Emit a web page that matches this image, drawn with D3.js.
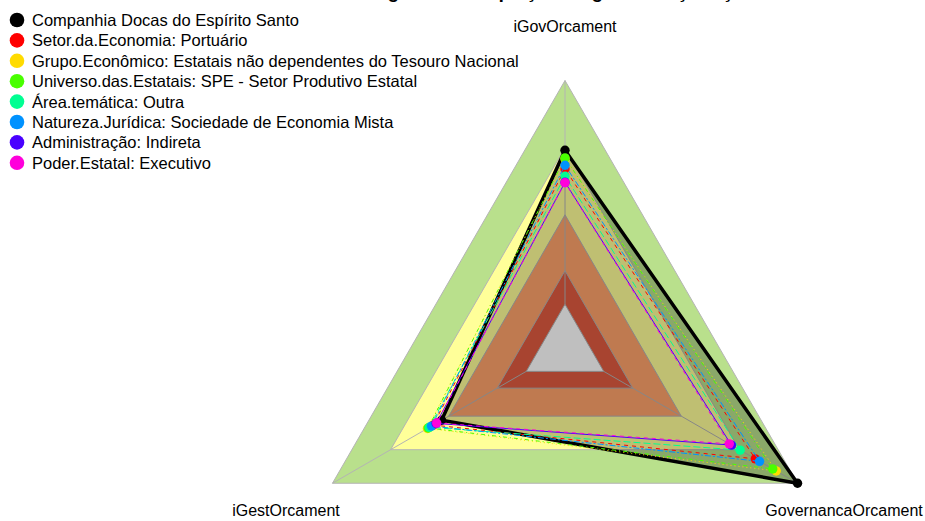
<!DOCTYPE html>
<html><head><meta charset="utf-8">
<script src="https://cdn.jsdelivr.net/npm/d3@7"></script>
<style>body{margin:0;background:#fff}svg{display:block}text{font-family:"Liberation Sans",Arial,sans-serif}</style>
</head><body>
<svg id="c" width="925" height="521"></svg>
<script>
const axes = ["iGovOrcament", "iGestOrcament", "GovernancaOrcament"];
const seriesNames = [
  "Companhia Docas do Espírito Santo",
  "Setor.da.Economia: Portuário",
  "Grupo.Econômico: Estatais não dependentes do Tesouro Nacional",
  "Universo.das.Estatais: SPE - Setor Produtivo Estatal",
  "Área.temática: Outra",
  "Natureza.Jurídica: Sociedade de Economia Mista",
  "Administração: Indireta",
  "Poder.Estatal: Executivo"
];
const seriesColors = ["#000000","#FF0000","#FFDB00","#49FF00","#00FF92","#0092FF","#4900FF","#FF00DB"];
// values per series: [iGovOrcament, iGestOrcament, GovernancaOrcament]
const iGovOrcament       = [0.688, 0.605, 0.650, 0.654, 0.572, 0.621, 0.545, 0.543];
const iGestOrcament      = [0.437, 0.480, 0.510, 0.506, 0.500, 0.489, 0.465, 0.462];
const GovernancaOrcament = [1.000, 0.782, 0.890, 0.872, 0.704, 0.804, 0.659, 0.648];
const bandValues = [1.0, 0.70, 0.40, 0.15, 0.0];
const bandColors = ["#b9e08c", "#ffff99", "#ffa36b", "#e05b40", "#ffffff"];
const titleText = "Percentagem de adequação da governança orçamentária";

const svg = d3.select("#c");
const cx = 565, cy = 349, R = 268.5;
const r = d3.scaleLinear().domain([0, 1]).range([R / 6, R]);
const ang = d3.scaleOrdinal().domain(axes).range([-90, 150, 30].map(a => a * Math.PI / 180));
const pt = (ax, v) => [cx + r(v) * Math.cos(ang(ax)), cy + r(v) * Math.sin(ang(ax))];
const line = d3.line().curve(d3.curveLinearClosed);

// title (clipped at top as in reference)
svg.append("text").attr("x", cx).attr("y", -2).attr("text-anchor", "middle")
  .attr("font-weight", "bold").attr("font-size", 19).text(titleText);

// bands
bandValues.forEach((v, i) => {
  svg.append("path").attr("d", line(axes.map(a => pt(a, v))))
    .attr("fill", bandColors[i]).attr("stroke", "#b4b4b4").attr("stroke-width", 1);
});
// axis lines
axes.forEach(a => {
  const p0 = pt(a, 0), p1 = pt(a, 1);
  svg.append("line").attr("x1", p0[0]).attr("y1", p0[1]).attr("x2", p1[0]).attr("y2", p1[1])
    .attr("stroke", "#b4b4b4").attr("stroke-width", 1);
});

const dashes = [null, "4 4", "1 3", "1 3 4 3", "7 3", "2 2 6 2", null, "4 4"];
seriesNames.forEach((name, i) => {
  const vals = [iGovOrcament[i], iGestOrcament[i], GovernancaOrcament[i]];
  const pts = axes.map((a, k) => pt(a, vals[k]));
  const g = svg.append("g");
  g.append("path").attr("d", line(pts))
    .attr("fill", i === 0 ? "rgba(0,0,0,0.25)" : "none")
    .attr("stroke", seriesColors[i]).attr("stroke-width", i === 0 ? 3.5 : 1)
    .attr("stroke-dasharray", dashes[i]).attr("stroke-linejoin", "miter");
  g.selectAll("circle").data(pts).join("circle")
    .attr("cx", d => d[0]).attr("cy", d => d[1]).attr("r", 4.7).attr("fill", seriesColors[i]);
});

// axis labels
axes.forEach(a => {
  const lr = r(1) * 1.2;
  svg.append("text").attr("x", cx + lr * Math.cos(ang(a))).attr("y", cy + lr * Math.sin(ang(a)))
    .attr("text-anchor", "middle").attr("dominant-baseline", "central")
    .attr("font-size", 16).attr("fill", "#000").text(a);
});

// legend
const lg = svg.append("g");
seriesNames.forEach((name, i) => {
  const y = 20 + i * 20.4;
  lg.append("circle").attr("cx", 17).attr("cy", y).attr("r", 7.3).attr("fill", seriesColors[i]);
  lg.append("text").attr("x", 32).attr("y", y).attr("dominant-baseline", "central")
    .attr("font-size", 16.5).text(name);
});
</script>
</body></html>
